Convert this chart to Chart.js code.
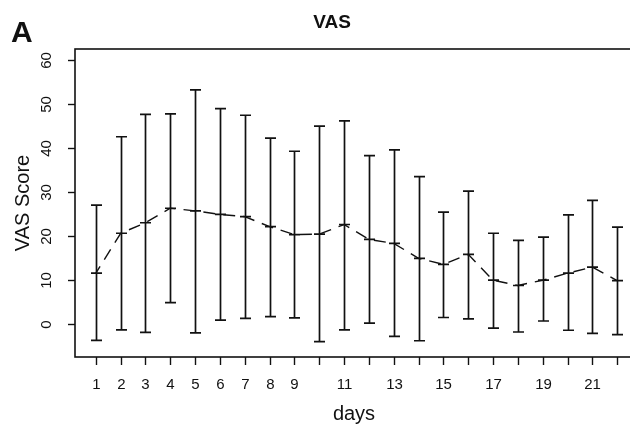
<!DOCTYPE html>
<html>
<head>
<meta charset="utf-8">
<script src="https://cdn.jsdelivr.net/npm/chart.js@4.4.1/dist/chart.umd.min.js"></script>
<style>
  html, body { margin: 0; padding: 0; background: #fff; overflow: hidden; }
  #wrap { width: 646px; height: 424px; }
</style>
</head>
<body>
<div id="wrap"><canvas id="vasChart" width="646" height="424"></canvas></div>
<script>
// values (mean and the ends of each error bar)
const days = [1, 2, 3, 4, 5, 6, 7, 8, 9, 10, 11, 12, 13, 14, 15, 16, 17, 18, 19, 20, 21, 22];
const meanScore = [11.5, 20.6, 23.0, 26.3, 25.7, 24.9, 24.4, 22.1, 20.3, 20.4, 22.6, 19.2, 18.3, 14.9, 13.5, 15.8, 9.9, 8.7, 9.9, 11.5, 12.9, 9.8];
const upperScore = [27.0, 42.6, 47.7, 47.8, 53.3, 49.0, 47.5, 42.3, 39.3, 45.0, 46.2, 38.3, 39.6, 33.5, 25.4, 30.2, 20.6, 19.0, 19.7, 24.8, 28.1, 22.0];
const lowerScore = [-3.8, -1.4, -2.0, 4.8, -2.1, 0.8, 1.2, 1.6, 1.3, -4.1, -1.4, 0.1, -2.9, -3.9, 1.4, 1.1, -1.0, -1.9, 0.6, -1.5, -2.2, -2.5];
const dayTickLabels = [1, 2, 3, 4, 5, 6, 7, 8, 9, 11, 13, 15, 17, 19, 21];
const scoreTicks = [0, 10, 20, 30, 40, 50, 60];

const FONT = '"Liberation Sans", Arial, Helvetica, sans-serif';
const INK = "#111";

// R-style box, axes, error bars and texts
const rPlotPlugin = {
  id: "rPlot",
  afterDatasetsDraw(chart) {
    const ctx = chart.ctx;
    const area = chart.chartArea;
    const xs = chart.scales.x;
    const ys = chart.scales.y;

    ctx.save();
    ctx.strokeStyle = INK;
    ctx.fillStyle = INK;

    // error bars with caps and a mean tick
    ctx.lineWidth = 1.7;
    const cap = 5.5;
    for (let i = 0; i < days.length; i++) {
      const x = Math.round(xs.getPixelForValue(days[i])) + 0.5;
      const yTop = ys.getPixelForValue(upperScore[i]);
      const yBot = ys.getPixelForValue(lowerScore[i]);
      const yMean = ys.getPixelForValue(meanScore[i]);
      ctx.beginPath();
      ctx.moveTo(x, yTop);
      ctx.lineTo(x, yBot);
      ctx.moveTo(x - cap, yTop);
      ctx.lineTo(x + cap, yTop);
      ctx.moveTo(x - cap, yBot);
      ctx.lineTo(x + cap, yBot);
      ctx.moveTo(x - cap, yMean);
      ctx.lineTo(x + cap, yMean);
      ctx.stroke();
    }

    // plot box
    ctx.lineWidth = 1.6;
    ctx.strokeRect(area.left, area.top, area.right - area.left, area.bottom - area.top);

    // x axis ticks and labels
    ctx.font = "15px " + FONT;
    ctx.textAlign = "center";
    ctx.textBaseline = "middle";
    ctx.lineWidth = 1.4;
    days.forEach(d => {
      const x = Math.round(xs.getPixelForValue(d)) + 0.5;
      ctx.beginPath();
      ctx.moveTo(x, area.bottom);
      ctx.lineTo(x, area.bottom + 8);
      ctx.stroke();
      if (dayTickLabels.includes(d)) {
        ctx.fillText(String(d), x, 385);
      }
    });

    // y axis ticks and rotated labels
    scoreTicks.forEach(v => {
      const y = Math.round(ys.getPixelForValue(v)) + 0.5;
      ctx.beginPath();
      ctx.moveTo(area.left - 7, y);
      ctx.lineTo(area.left, y);
      ctx.stroke();
      ctx.save();
      ctx.translate(47, y);
      ctx.rotate(-Math.PI / 2);
      ctx.fillText(String(v), 0, 0);
      ctx.restore();
    });

    // axis titles
    ctx.font = "20px " + FONT;
    ctx.textBaseline = "alphabetic";
    ctx.fillText("days", 354, 420);
    ctx.save();
    ctx.translate(29, (area.top + area.bottom) / 2);
    ctx.rotate(-Math.PI / 2);
    ctx.fillText("VAS Score", 0, 0);
    ctx.restore();

    // main title and panel letter
    ctx.font = "bold 19px " + FONT;
    ctx.fillText("VAS", 332, 28);
    ctx.font = "bold 30px " + FONT;
    ctx.textAlign = "left";
    ctx.fillText("A", 11, 42);

    ctx.restore();
  }
};

new Chart(document.getElementById("vasChart"), {
  type: "line",
  data: {
    datasets: [{
      label: "VAS",
      data: days.map((d, i) => ({ x: d, y: meanScore[i] })),
      borderColor: INK,
      borderWidth: 1.4,
      borderDash: [12, 8],
      borderDashOffset: 4,
      pointRadius: 0,
      tension: 0,
      fill: false
    }]
  },
  options: {
    responsive: false,
    animation: false,
    devicePixelRatio: 1,
    layout: { padding: { left: 75, top: 49, right: 8, bottom: 67 } },
    plugins: {
      legend: { display: false },
      tooltip: { enabled: false },
      title: { display: false }
    },
    scales: {
      x: { type: "linear", min: 0.16, max: 22.84, display: false },
      y: { type: "linear", min: -7.6, max: 62.6, display: false }
    }
  },
  plugins: [rPlotPlugin]
});
</script>
</body>
</html>
